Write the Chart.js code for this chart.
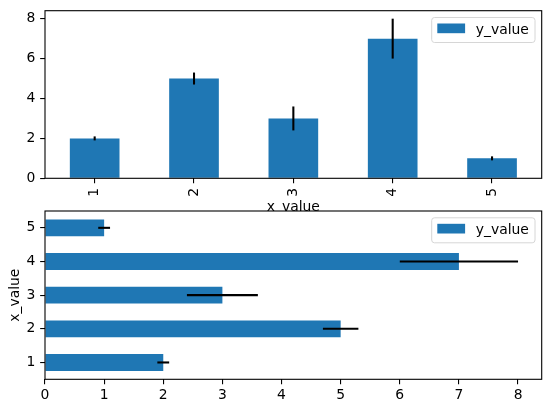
<!DOCTYPE html>
<html>
<head>
<meta charset="utf-8">
<script src="https://cdn.jsdelivr.net/npm/chart.js@4.4.1/dist/chart.umd.min.js"></script>
<style>
  html, body { margin: 0; padding: 0; background: #ffffff; }
  #wrap { position: relative; width: 550px; height: 413px; }
  canvas { position: absolute; left: 0; top: 0; }
  #c1 { z-index: 1; }
  #c2 { z-index: 2; }
</style>
</head>
<body>
<div id="wrap">
  <canvas id="c1" width="550" height="413"></canvas>
  <canvas id="c2" width="550" height="413"></canvas>
</div>
<script>
// ---- data ----
const categories = ['1', '2', '3', '4', '5'];
const yValues = [2, 5, 3, 7, 1];
const yErrors = [0.1, 0.3, 0.6, 1.0, 0.1];
const seriesLabel = 'y_value';
const axisLabel = 'x_value';
const valueMax = 8.4;

// ---- styles ----
const BAR = '#1f77b4';
const FS = 13.9;
const FONT = { family: 'DejaVu Sans', size: FS };
const TICK_LEN = 4.86;
const TICK_PAD = 4.86;
const AX_LW = 1.1;

const extras = {
  id: 'extras',
  beforeDraw(chart, args, opts) {
    if (opts.fillArea) {
      const a = chart.chartArea, ctx = chart.ctx;
      ctx.save();
      ctx.fillStyle = '#ffffff';
      ctx.fillRect(a.left, a.top, a.right - a.left, a.bottom - a.top);
      ctx.restore();
    }
  },
  afterDatasetsDraw(chart, args, opts) {
    const ctx = chart.ctx, a = chart.chartArea;
    const horizontal = chart.options.indexAxis === 'y';
    const vScale = horizontal ? chart.scales.x : chart.scales.y;
    const meta = chart.getDatasetMeta(0);
    ctx.save();
    // error bars
    ctx.strokeStyle = '#000000';
    ctx.lineWidth = 2.08;
    meta.data.forEach((el, i) => {
      const lo = vScale.getPixelForValue(yValues[i] - yErrors[i]);
      const hi = vScale.getPixelForValue(yValues[i] + yErrors[i]);
      ctx.beginPath();
      if (horizontal) { ctx.moveTo(lo, el.y); ctx.lineTo(hi, el.y); }
      else { ctx.moveTo(el.x, lo); ctx.lineTo(el.x, hi); }
      ctx.stroke();
    });
    // frame
    ctx.lineWidth = AX_LW;
    ctx.strokeRect(a.left, a.top, a.right - a.left, a.bottom - a.top);
    // legend
    const bw = 103.3, bh = 25;
    const bx = a.right - 6.7 - bw, by = a.top + 6.8;
    const r = 2.8;
    ctx.beginPath();
    ctx.moveTo(bx + r, by);
    ctx.lineTo(bx + bw - r, by);
    ctx.quadraticCurveTo(bx + bw, by, bx + bw, by + r);
    ctx.lineTo(bx + bw, by + bh - r);
    ctx.quadraticCurveTo(bx + bw, by + bh, bx + bw - r, by + bh);
    ctx.lineTo(bx + r, by + bh);
    ctx.quadraticCurveTo(bx, by + bh, bx, by + bh - r);
    ctx.lineTo(bx, by + r);
    ctx.quadraticCurveTo(bx, by, bx + r, by);
    ctx.closePath();
    ctx.fillStyle = 'rgba(255,255,255,0.8)';
    ctx.fill();
    ctx.strokeStyle = '#d6d6d6';
    ctx.lineWidth = 1;
    ctx.stroke();
    ctx.fillStyle = BAR;
    ctx.fillRect(bx + 5.6, by + 6, 27.8, 9.7);
    ctx.fillStyle = '#000000';
    ctx.font = FS + 'px "DejaVu Sans"';
    ctx.textAlign = 'left';
    ctx.textBaseline = 'alphabetic';
    ctx.fillText(chart.data.datasets[0].label, bx + 44.1, by + 16.6);
    ctx.restore();
  },
  afterDraw(chart, args, opts) {
    const ctx = chart.ctx, a = chart.chartArea;
    ctx.save();
    ctx.fillStyle = '#000000';
    ctx.font = FS + 'px "DejaVu Sans"';
    ctx.textAlign = 'center';
    ctx.textBaseline = 'alphabetic';
    if (opts.xTitle) {
      ctx.fillText(opts.xTitle, (a.left + a.right) / 2, 210.9);
    }
    if (opts.yTitle) {
      ctx.translate(19, (a.top + a.bottom) / 2);
      ctx.rotate(-Math.PI / 2);
      ctx.fillText(opts.yTitle, 0, 0);
    }
    ctx.restore();
  }
};

function tickGrid() {
  return {
    display: true,
    drawOnChartArea: false,
    drawTicks: true,
    tickLength: TICK_LEN,
    tickColor: '#000000',
    tickWidth: AX_LW,
    color: '#000000',
    lineWidth: AX_LW,
    offset: false
  };
}

function zeroPad(s) {
  s.paddingTop = 0; s.paddingBottom = 0; s.paddingLeft = 0; s.paddingRight = 0;
}

// ---- top: vertical bars ----
new Chart(document.getElementById('c1'), {
  type: 'bar',
  data: {
    labels: categories,
    datasets: [{
      label: seriesLabel,
      data: yValues,
      backgroundColor: BAR,
      borderWidth: 0,
      categoryPercentage: 1.0,
      barPercentage: 0.5
    }]
  },
  options: {
    responsive: false,
    animation: false,
    layout: { padding: { top: 10.7, right: 8.3, left: 0, bottom: 0 } },
    plugins: {
      legend: { display: false },
      tooltip: { enabled: false },
      extras: { xTitle: axisLabel, fillArea: false }
    },
    scales: {
      x: {
        type: 'category',
        offset: true,
        grid: tickGrid(),
        border: { display: false },
        ticks: { color: '#000000', font: FONT, minRotation: 90, maxRotation: 90, padding: TICK_PAD },
        afterFit(s) { s.height = 413 - 178.3; zeroPad(s); }
      },
      y: {
        type: 'linear',
        min: 0,
        max: valueMax,
        grid: tickGrid(),
        border: { display: false },
        ticks: { color: '#000000', font: FONT, stepSize: 2, includeBounds: false, padding: TICK_PAD },
        afterFit(s) { s.width = 45; zeroPad(s); }
      }
    }
  },
  plugins: [extras]
});

// ---- bottom: horizontal bars ----
new Chart(document.getElementById('c2'), {
  type: 'bar',
  data: {
    labels: categories,
    datasets: [{
      label: seriesLabel,
      data: yValues,
      backgroundColor: BAR,
      borderWidth: 0,
      categoryPercentage: 1.0,
      barPercentage: 0.5
    }]
  },
  options: {
    indexAxis: 'y',
    responsive: false,
    animation: false,
    layout: { padding: { top: 211, right: 8.3, left: 0, bottom: 0 } },
    plugins: {
      legend: { display: false },
      tooltip: { enabled: false },
      extras: { yTitle: axisLabel, fillArea: true }
    },
    scales: {
      x: {
        type: 'linear',
        min: 0,
        max: valueMax,
        grid: tickGrid(),
        border: { display: false },
        ticks: { color: '#000000', font: FONT, stepSize: 1, includeBounds: false, padding: 3.2, maxRotation: 0 },
        afterFit(s) { s.height = 413 - 379.3; zeroPad(s); }
      },
      y: {
        type: 'category',
        reverse: true,
        offset: true,
        grid: tickGrid(),
        border: { display: false },
        ticks: { color: '#000000', font: FONT, padding: TICK_PAD },
        afterFit(s) { s.width = 45; zeroPad(s); }
      }
    }
  },
  plugins: [extras]
});
</script>
</body>
</html>
